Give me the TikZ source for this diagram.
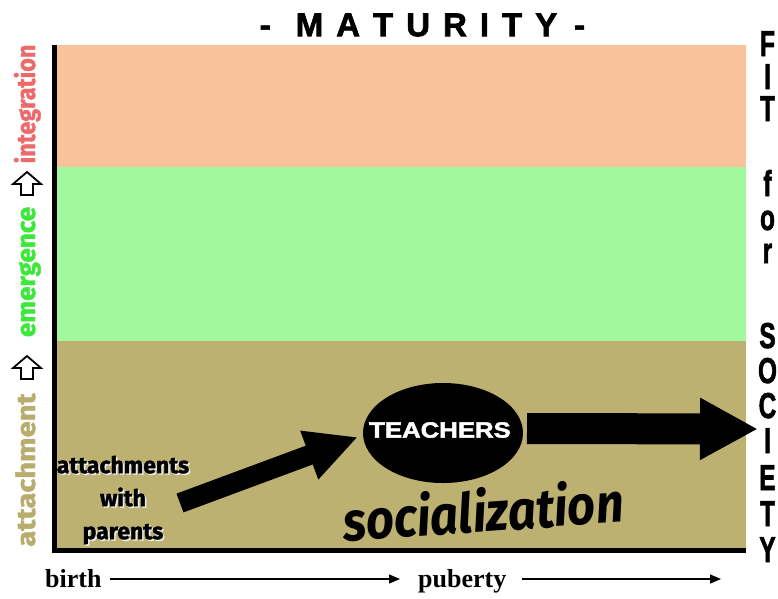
\documentclass[tikz,border=0pt]{standalone}
\usepackage{fontspec}
\setmainfont{Liberation Sans}
\newfontfamily\heavy{Liberation Sans}[BoldFeatures={FakeBold=2}]
\newfontfamily\serifb{Liberation Serif}
\newfontfamily\fira{Fira Sans}
\newfontfamily\firaheavy{Fira Sans}[BoldFeatures={FakeBold=1.5}]
\usetikzlibrary{arrows.meta,shapes.geometric}
\definecolor{orangeband}{HTML}{F9C29B}
\definecolor{greenband}{HTML}{A2F89C}
\definecolor{tanband}{HTML}{BCB171}
\definecolor{attcol}{HTML}{B8AC6E}
\definecolor{emcol}{HTML}{3CE83A}
\definecolor{intcol}{HTML}{EE6A6A}
\tikzset{
  fitletter/.style={anchor=base, inner sep=0pt, font=\heavy\fontsize{36}{36}\selectfont\bfseries},
  sidelabel/.style={rotate=90, anchor=base, inner sep=0pt, font=\firaheavy\fontsize{26}{26}\selectfont\bfseries},
  hollowup/.style={draw=black, line width=1.8pt, fill=white, line join=miter},
  bigarrow/.style={draw=black, line cap=butt},
  timearrow/.style={line width=1.3pt, -{Triangle[length=11pt,width=9pt]}},
  timelabel/.style={anchor=base west, inner sep=0pt, font=\serifb\bfseries\fontsize{26}{26}\selectfont},
  parentstext/.style={align=center, inner sep=0pt, font=\firaheavy\bfseries\fontsize{23}{33}\selectfont}
}
\begin{document}
\begin{tikzpicture}[x=1pt,y=-1pt]
\useasboundingbox (0,0) rectangle (778,598);
% bands
\fill[orangeband] (54,45) rectangle (746,167);
\fill[greenband] (54,167) rectangle (746,341);
\fill[tanband] (54,341) rectangle (746,549);
\draw[line width=5pt] (54.5,45) -- (54.5,550) -- (746,550);
% title
\node[inner sep=0pt, font=\heavy\fontsize{33}{33}\selectfont\bfseries] (title) at (422.5,25)
  {-\hspace{25pt}M\hspace{13pt}A\hspace{13pt}T\hspace{13pt}U\hspace{13pt}R\hspace{13pt}I\hspace{13pt}T\hspace{13pt}Y\hspace{17pt}-};
% right column
\foreach \l/\y [count=\i] in {F/56,I/89,T/121,f/196,o/230,r/263,S/348,O/383,C/418,I/453,E/490,T/526,Y/562}
  \node[fitletter] (fit\i) at (767.5,\y) {\scalebox{0.68}[1]{\l}};
% left column
\node[sidelabel, text=intcol] (integration) at (35,104) {\scalebox{0.9}[1]{integration}};
\node[sidelabel, text=emcol] (emergence) at (35,272) {\scalebox{1.0}[1]{emergence}};
\node[sidelabel, text=attcol] (attachment) at (35,470) {\scalebox{1.12}[1]{attachment}};
\draw[hollowup] (27,172) -- (41,184) -- (33,184) -- (33,195) -- (21,195) -- (21,184) -- (13,184) -- cycle;
\draw[hollowup] (27,356) -- (41,368) -- (33,368) -- (33,379) -- (21,379) -- (21,368) -- (13,368) -- cycle;
% attachments with parents
\node[parentstext, text=white!92!black] at (124.5,501.5) {attachments\\with\\parents};
\node[parentstext] (parents) at (123,500) {attachments\\with\\parents};
% teachers
\node[ellipse, fill=black, minimum width=160pt, minimum height=100pt, inner sep=0pt] (teachers) at (443,433) {};
\node[text=white, inner sep=0pt, font=\heavy\fontsize{22}{22}\selectfont\bfseries] (teacherstext) at (440,430) {\scalebox{1.17}[1]{TEACHERS}};
% arrows
\coordinate (a1s) at (180,503);
\coordinate (a1e) at (358,437);
\draw[bigarrow, line width=20pt, -{Triangle[length=52pt,width=48pt]}] (a1s) -- (a1e);
\coordinate (a2s) at (527,428.5);
\coordinate (society) at (758,429);
\draw[bigarrow, line width=31pt, -{Triangle[length=58pt,width=58pt]}] (a2s) -- (society);
% socialization
\node[rotate=4, inner sep=0pt, font=\fira\itshape\bfseries\fontsize{49}{49}\selectfont] (socialization) at (483,510) {\scalebox{1}[1.12]{socialization}};
% time axis
\node[timelabel] (birth) at (45,587) {birth};
\node[timelabel] (puberty) at (418,587) {puberty};
\coordinate (t1s) at (110,579);
\coordinate (t1e) at (400,579);
\coordinate (t2s) at (522,579);
\coordinate (t2e) at (721,579);
\draw[timearrow] (t1s) -- (t1e);
\draw[timearrow] (t2s) -- (t2e);
\end{tikzpicture}
\end{document}
